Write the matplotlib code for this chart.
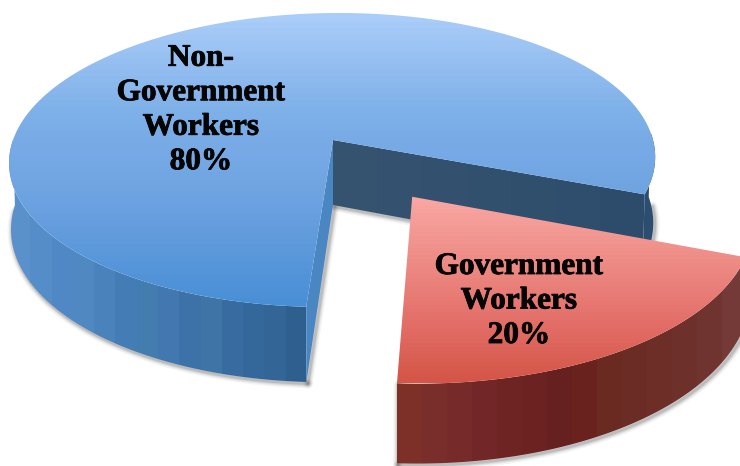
import numpy as np
import matplotlib
matplotlib.use("Agg")
import matplotlib.pyplot as plt
import matplotlib.patheffects as pe
from matplotlib.colors import LinearSegmentedColormap, ListedColormap
from matplotlib.patches import Polygon

labels = ["Non-\nGovernment\nWorkers", "Government\nWorkers"]
shares = [80, 20]
start_angle = -21.0  # where the blue slice begins, degrees
explode = [0.0, 0.445]

# projection of the unit disc
CX, CY = 333.0, 140.0
RX, RY = 320.0, 144.3
PERSP = 0.136
SHEAR = 0.02
DEPTH = 65.0
TAPER = 0.006  # lower rim is a touch narrower than the upper one

BLUE_TOP = ["#a9ccf9", "#7eb0e9", "#6ba1e0", "#4a8fd5"]
RED_TOP = ["#f9a6a2", "#ee8c86", "#e4706a", "#d55648"]
BLUE_WALL = ["#5b91ca", "#558dc8", "#4f88c4", "#5089c1", "#4a82bb", "#447cb6", "#437db0",
             "#4278af", "#3c72a8", "#3f74a6", "#386ca0", "#35689a", "#336596", "#2e5f8e"]
BACK_WALL = ["#35526f", "#34526f", "#33516e", "#31506d", "#304f6c", "#2f4e6d", "#2d4c6c"]
RED_WALL = ["#7c3028", "#7a2e2b", "#762a2a", "#722628", "#6e2422", "#6c2220", "#662020",
            "#6a221f", "#6a2a22", "#6a2c24", "#6d2e28", "#6e302a", "#703430", "#733a38"]

layer = 0


def next_layer():
    # images, patches and lines default to different zorders, so stack them by hand
    global layer
    layer += 1
    return layer


def project(u, v, z=0.0, dx=0.0, dy=0.0):
    u, v = np.asarray(u) + dx, np.asarray(v) + dy
    w = 1 + PERSP * v
    x = RX * (u + SHEAR * v) / w * (1 - TAPER * z)
    return np.column_stack([CX + x, CY - RY * v / w + DEPTH * z / w])


def rim(a0, a1, z=0.0, dx=0.0, dy=0.0):
    t = np.radians(np.linspace(a0, a1, 240))
    return project(np.cos(t), np.sin(t), z, dx, dy)


def fill_image(ax, img, cmap, pts, extent, interpolation):
    z = next_layer()
    poly = Polygon(pts, closed=True, fc="none", ec="none", zorder=z)
    ax.add_patch(poly)
    im = ax.imshow(img, cmap=cmap, extent=extent, aspect="auto", interpolation=interpolation,
                   vmin=0, vmax=1, zorder=z)
    im.set_clip_path(poly)


def fill_vertical(ax, pts, colors, y0, y1):
    # smooth top-to-bottom shading, in fine horizontal steps
    cmap = LinearSegmentedColormap.from_list("top", colors, N=48)
    x0, x1 = pts[:, 0].min(), pts[:, 0].max()
    fill_image(ax, np.linspace(0, 1, 48)[:, None], cmap, pts, (x0, x1, y1, y0), "bilinear")


def fill_bands(ax, pts, colors):
    # vertical streaks that run across the side walls
    x0, x1 = pts[:, 0].min(), pts[:, 0].max()
    y0, y1 = pts[:, 1].min(), pts[:, 1].max()
    img = np.linspace(0, 1, len(colors))[None, :]
    fill_image(ax, img, ListedColormap(colors), pts, (x0, x1, y1, y0), "nearest")


def soft_shadow(ax, pts):
    for lw, alpha in zip([7, 5, 3.5, 2], [0.05, 0.07, 0.1, 0.14]):
        ax.plot(pts[:, 0] + 1.5, pts[:, 1] + 1.5, color="#303030", lw=lw, alpha=alpha,
                solid_capstyle="round", solid_joinstyle="round", zorder=next_layer())


fig = plt.figure(figsize=(7.40, 4.66), dpi=100)
ax = fig.add_axes([0, 0, 1, 1])

# slice boundaries come straight from the shares
sweeps = [s / sum(shares) * 360 for s in shares]
blue_a0, blue_a1 = start_angle, start_angle + sweeps[0]
red_a0, red_a1 = blue_a1, blue_a1 + sweeps[1]
mid = np.radians((red_a0 + red_a1) / 2)
red_dx, red_dy = explode[1] * np.cos(mid), explode[1] * np.sin(mid)

blue_end = np.radians(blue_a1)
blue_start = np.radians(blue_a0)
apex_top = project([0], [0])[0]
apex_low = project([0], [0], 1)[0]
edge_a_top = project([np.cos(blue_end)], [np.sin(blue_end)])[0]
edge_a_low = project([np.cos(blue_end)], [np.sin(blue_end)], 1)[0]
edge_b_top = project([np.cos(blue_start)], [np.sin(blue_start)])[0]
edge_b_low = project([np.cos(blue_start)], [np.sin(blue_start)], 1)[0]

# drop shadows below the blue body
soft_shadow(ax, rim(182, blue_a1, 1))
soft_shadow(ax, np.array([apex_low, edge_a_low]))
soft_shadow(ax, np.array([apex_low, edge_b_low]))
soft_shadow(ax, rim(blue_a0, 0, 1))

# inner wall facing the gap
fill_bands(ax, np.array([apex_top, edge_b_top, edge_b_low, apex_low]), BACK_WALL)

# outer walls of the blue slice
front = np.vstack([rim(blue_a1, 180), rim(180, blue_a1, 1)])
fill_bands(ax, front, BLUE_WALL)
right = np.vstack([rim(blue_a0, 3), rim(3, blue_a0, 1)])
ax.add_patch(Polygon(right, closed=True, fc="#2d4d70", ec="none", zorder=next_layer()))

# cut face at the end of the blue slice
ax.add_patch(Polygon([apex_top, edge_a_top, edge_a_low, apex_low], closed=True,
                     fc="#4a86c2", ec="none", zorder=next_layer()))

# blue top surface
blue_top = np.vstack([apex_top, rim(blue_a0, blue_a1)])
fill_vertical(ax, blue_top, BLUE_TOP, 13, 307)

# exploded red slice
red_rim_low = rim(red_a0, red_a1, 1, red_dx, red_dy)
red_apex = project([red_dx], [red_dy])[0]
soft_shadow(ax, red_rim_low)
soft_shadow(ax, np.array([rim(red_a0, red_a0, 0, red_dx, red_dy)[0], red_rim_low[0]]))
fill_bands(ax, np.vstack([rim(red_a0, red_a1, 0, red_dx, red_dy), red_rim_low[::-1]]), RED_WALL)
red_top = np.vstack([red_apex, rim(red_a0, red_a1, 0, red_dx, red_dy)])
fill_vertical(ax, red_top, RED_TOP, 196, 383)

ax.set_xlim(0, 740)
ax.set_ylim(466, 0)
ax.axis("off")

font = dict(family="Liberation Serif", fontweight="bold", fontsize=22.5, color="#050505",
            ha="center", va="center", linespacing=1.25, zorder=next_layer(),
            path_effects=[pe.withStroke(linewidth=0.6, foreground="#050505")])
ax.text(201, 110, f"{labels[0]}\n{shares[0]}%", **font)
ax.text(519, 301, f"{labels[1]}\n{shares[1]}%", **font)

fig.savefig("out.png", dpi=100)
